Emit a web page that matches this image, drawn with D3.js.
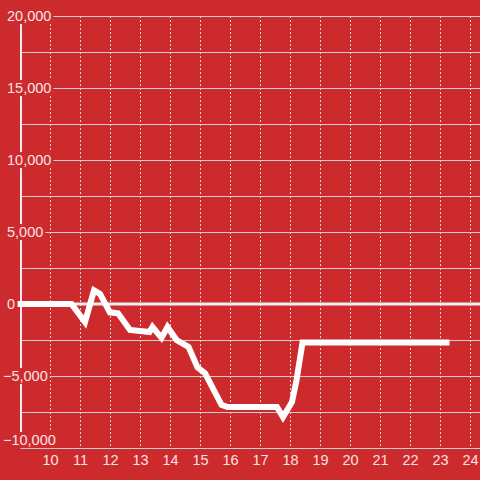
<!DOCTYPE html>
<html>
<head>
<meta charset="utf-8">
<script src="https://cdn.jsdelivr.net/npm/d3@7"></script>
<style>
  html, body { margin: 0; padding: 0; background: #cd2a2e; }
  svg { display: block; font-family: "Liberation Sans", Arial, sans-serif; }
</style>
</head>
<body>
<div id="chart"></div>
<script>
// hours of the day and the running value at each point
const hours = [9, 10.7, 11.15, 11.45, 11.65, 11.98, 12.25, 12.65, 13.3, 13.4, 13.7, 13.9, 14.2, 14.6, 14.9, 15.15, 15.7, 15.9, 17.55, 17.75, 18.05, 18.2, 18.4, 23.2];
const values = [0, 0, -1250, 950, 700, -580, -650, -1800, -1950, -1600, -2350, -1600, -2500, -2980, -4400, -4800, -7000, -7150, -7150, -7850, -6800, -5300, -2680, -2680];

const xTicks = [10, 11, 12, 13, 14, 15, 16, 17, 18, 19, 20, 21, 22, 23, 24];
const yTicks = [-10000, -5000, 0, 5000, 10000, 15000, 20000];
const yGrid = [-10000, -7500, -5000, -2500, 2500, 5000, 7500, 10000, 12500, 15000, 17500, 20000];

const width = 480;
const height = 480;
const bg = '#cd2a2e';

const svg = d3.select('#chart')
  .append('svg')
  .attr('width', width)
  .attr('height', height);

svg.append('rect')
  .attr('width', width)
  .attr('height', height)
  .attr('fill', bg);

const x = d3.scaleLinear()
  .domain([9, 24])
  .range([20.5, 470.5]);

const y = d3.scaleLinear()
  .domain([-10000, 20000])
  .range([448, 16]);

// vertical dashed grid
svg.append('g')
  .attr('class', 'x grid')
  .selectAll('line')
  .data(xTicks)
  .enter()
  .append('line')
  .attr('x1', d => x(d))
  .attr('x2', d => x(d))
  .attr('y1', y(20000))
  .attr('y2', y(-10000))
  .attr('stroke', '#d8d8d8')
  .attr('stroke-width', 1)
  .attr('stroke-dasharray', '2,2');

// horizontal grid
svg.append('g')
  .attr('class', 'y grid')
  .selectAll('line')
  .data(yGrid)
  .enter()
  .append('line')
  .attr('x1', x(9))
  .attr('x2', width)
  .attr('y1', d => Math.round(y(d)) + 0.5)
  .attr('y2', d => Math.round(y(d)) + 0.5)
  .attr('stroke', '#cfcfcf')
  .attr('stroke-width', 1);

// zero line
svg.append('line')
  .attr('x1', x(9))
  .attr('x2', width)
  .attr('y1', y(0))
  .attr('y2', y(0))
  .attr('stroke', '#f2eeee')
  .attr('stroke-width', 3);

// y axis line
svg.append('line')
  .attr('x1', 21)
  .attr('x2', 21)
  .attr('y1', y(20000))
  .attr('y2', y(-10000))
  .attr('stroke', '#eeeeee')
  .attr('stroke-width', 2);

// the series
const line = d3.line()
  .x((d, i) => x(hours[i]))
  .y(d => y(d));

svg.append('path')
  .datum(values)
  .attr('d', line)
  .attr('fill', 'none')
  .attr('stroke', '#ffffff')
  .attr('stroke-width', 6)
  .attr('stroke-linecap', 'square');

// y labels with background boxes
const fmt = d3.format(',');
const yLabels = svg.append('g')
  .attr('class', 'y labels')
  .selectAll('g')
  .data(yTicks)
  .enter()
  .append('g')
  .attr('transform', d => `translate(${d < 0 ? 3 : 7},${d === -10000 ? 440 : y(d)})`);

yLabels.append('rect')
  .attr('fill', bg);

yLabels.append('text')
  .attr('dy', '0.35em')
  .attr('font-size', 14.5)
  .attr('fill', '#f8e2e2')
  .text(d => fmt(d));

yLabels.each(function () {
  const g = d3.select(this);
  const b = g.select('text').node().getBBox();
  g.select('rect')
    .attr('x', b.x - 2)
    .attr('y', b.y)
    .attr('width', b.width + 4)
    .attr('height', b.height);
});

// x labels
svg.append('g')
  .attr('class', 'x labels')
  .selectAll('text')
  .data(xTicks)
  .enter()
  .append('text')
  .attr('x', d => x(d))
  .attr('y', 465)
  .attr('text-anchor', 'middle')
  .attr('font-size', 14.5)
  .attr('fill', '#f8e2e2')
  .text(d => d);
</script>
</body>
</html>
